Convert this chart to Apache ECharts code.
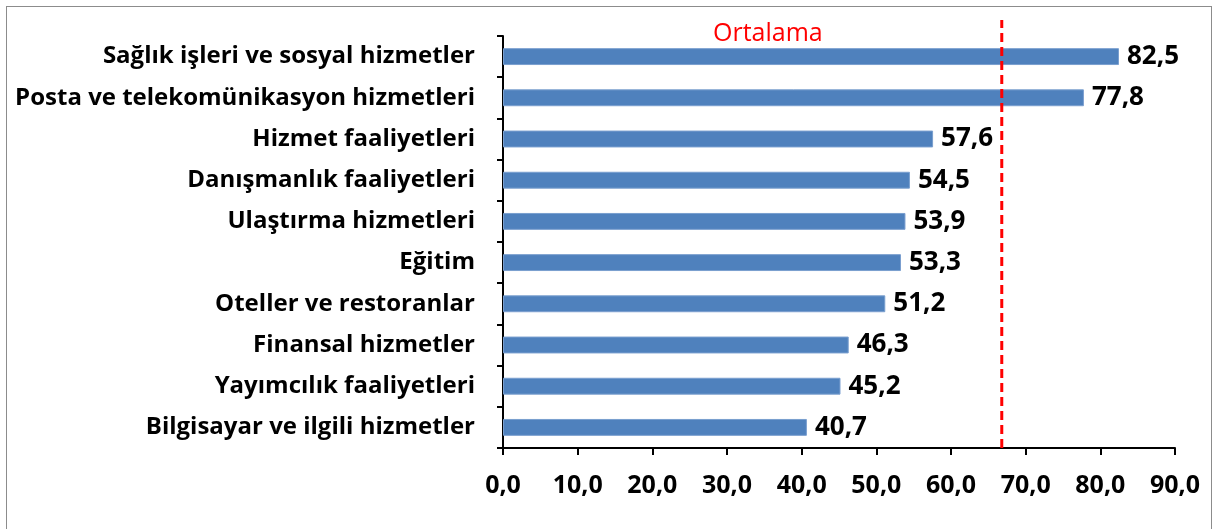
<!DOCTYPE html>
<html>
<head>
<meta charset="utf-8">
<script src="https://cdn.jsdelivr.net/npm/echarts@6/dist/echarts.min.js"></script>
<style>
  html, body { margin: 0; padding: 0; background: #fff; }
  #frame { position: absolute; left: 6px; top: 6px; width: 1206px; height: 530px; border: 1px solid #8c8c8c; box-sizing: border-box; }
  #chart { position: absolute; left: 0; top: 0; width: 1215px; height: 529px; }
</style>
</head>
<body>
<div id="frame"></div>
<div id="chart"></div>
<script>
// veriler (yukaridan asagiya)
var categories = [
    'Sağlık işleri ve sosyal hizmetler',
    'Posta ve telekomünikasyon hizmetleri',
    'Hizmet faaliyetleri',
    'Danışmanlık faaliyetleri',
    'Ulaştırma hizmetleri',
    'Eğitim',
    'Oteller ve restoranlar',
    'Finansal hizmetler',
    'Yayımcılık faaliyetleri',
    'Bilgisayar ve ilgili hizmetler'
];
var values = [82.5, 77.8, 57.6, 54.5, 53.9, 53.3, 51.2, 46.3, 45.2, 40.7];
var average = 66.8;
var averageLabel = 'Ortalama';
var xTicks = [0, 10, 20, 30, 40, 50, 60, 70, 80, 90];

var font = '"Open Sans", sans-serif';
function fmt(v) { return v.toFixed(1).replace('.', ','); }

var myChart = echarts.init(document.getElementById('chart'));
var option = {
    animation: false,
    textStyle: { fontFamily: font },
    grid: [
        { left: 503, right: 40, top: 36, bottom: 81 },
        { left: 503, right: 40, top: 20, bottom: 81 }   // ortalama cizgisi icin
    ],
    xAxis: [
        {
            type: 'value',
            gridIndex: 0,
            min: xTicks[0],
            max: xTicks[xTicks.length - 1],
            interval: 10,
            splitLine: { show: false },
            axisLine: { show: true, lineStyle: { color: '#000', width: 2 } },
            axisTick: { show: true, length: 7, lineStyle: { color: '#000', width: 2 } },
            axisLabel: {
                margin: 25,
                color: '#000',
                fontWeight: 'bold',
                fontSize: 25,
                fontFamily: font,
                formatter: function (v) { return fmt(v); }
            }
        },
        {
            type: 'value', gridIndex: 1, min: 0, max: 90, show: false
        }
    ],
    yAxis: [
        {
            type: 'category',
            gridIndex: 0,
            inverse: true,
            data: categories,
            axisLine: { show: true, lineStyle: { color: '#000', width: 2 } },
            axisTick: { show: true, length: 6, lineStyle: { color: '#000', width: 2 } },
            axisLabel: {
                margin: 28,
                color: '#000',
                fontWeight: 'bold',
                fontSize: 24,
                fontFamily: font
            }
        },
        {
            type: 'value', gridIndex: 1, min: 0, max: 1, show: false
        }
    ],
    series: [
        {
            type: 'bar',
            xAxisIndex: 0,
            yAxisIndex: 0,
            data: values,
            barWidth: '41%',
            itemStyle: { color: '#4F81BD', borderColor: '#7a9fcf', borderWidth: 1 },
            label: {
                show: true,
                position: 'right',
                distance: 8,
                color: '#000',
                fontWeight: 'bold',
                fontSize: 26,
                fontFamily: font,
                formatter: function (p) { return fmt(p.value); }
            },
            z: 2
        },
        {
            type: 'line',
            xAxisIndex: 1,
            yAxisIndex: 1,
            data: [[average, 0], [average, 1]],
            symbol: 'none',
            lineStyle: { color: '#FF0000', width: 3, type: [9, 5] },
            z: 3
        }
    ],
    graphic: [
        {
            type: 'text',
            left: 713,
            top: 21,
            style: { text: averageLabel, fill: '#FF0000', font: '25px ' + font }
        }
    ]
};
myChart.setOption(option);
</script>
</body>
</html>
